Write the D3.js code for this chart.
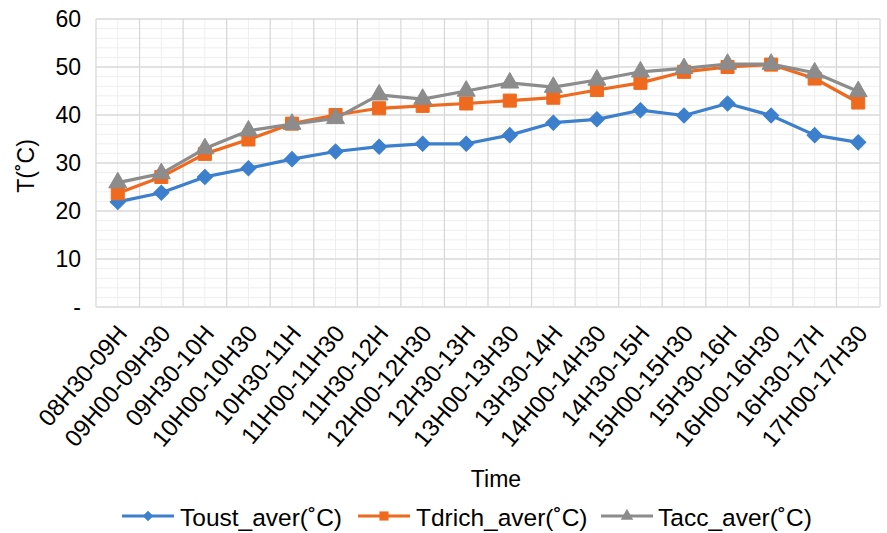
<!DOCTYPE html>
<html>
<head>
<meta charset="utf-8">
<script src="https://cdn.jsdelivr.net/npm/d3@7"></script>
<style>
  html, body { margin: 0; padding: 0; background: #fff; }
  svg { display: block; font-family: "Liberation Sans", Arial, sans-serif; }
</style>
</head>
<body>
<svg id="chart" width="887" height="533"></svg>
<script>
// Half-hour time slots
const categories = [
  "08H30-09H", "09H00-09H30", "09H30-10H", "10H00-10H30", "10H30-11H", "11H00-11H30",
  "11H30-12H", "12H00-12H30", "12H30-13H", "13H00-13H30", "13H30-14H", "14H00-14H30",
  "14H30-15H", "15H00-15H30", "15H30-16H", "16H00-16H30", "16H30-17H", "17H00-17H30"
];

// Average temperatures (°C)
const toustAver = [21.9, 23.8, 27.1, 28.9, 30.8, 32.4, 33.4, 34.0, 34.0, 35.8, 38.4, 39.1, 41.0, 39.9, 42.4, 39.9, 35.8, 34.3];
const tdrichAver = [23.7, 27.1, 31.9, 34.9, 38.2, 40.0, 41.4, 41.9, 42.4, 43.0, 43.6, 45.2, 46.7, 49.0, 50.0, 50.5, 47.6, 42.6];
const taccAver = [25.9, 27.8, 33.0, 36.7, 38.1, 39.3, 44.2, 43.3, 45.0, 46.7, 45.8, 47.3, 49.0, 49.7, 50.6, 50.6, 48.8, 44.9];

const seriesNames = ["Toust_aver(˚C)", "Tdrich_aver(˚C)", "Tacc_aver(˚C)"];
const yTicks = [0, 10, 20, 30, 40, 50, 60];
const yTickLabels = ["-", "10", "20", "30", "40", "50", "60"];

const series = [
  { name: seriesNames[0], values: toustAver, color: "#3c7fcd", marker: "diamond" },
  { name: seriesNames[1], values: tdrichAver, color: "#ef6a1e", marker: "square" },
  { name: seriesNames[2], values: taccAver, color: "#8c8c8c", marker: "triangle" }
];

const svg = d3.select("#chart");
const plot = { left: 96, right: 880, top: 19, bottom: 307 };
const FONT = "'Liberation Sans', Arial, sans-serif";

const x = d3.scaleBand().domain(categories).range([plot.left, plot.right]).paddingInner(0).paddingOuter(0);
const y = d3.scaleLinear().domain([0, 60]).range([plot.bottom, plot.top]);

// Gridlines: minor first, then major
const grid = svg.append("g");
const minorY = d3.range(0, 61, 2).filter(v => v % 10 !== 0);
grid.selectAll("line.minor-y").data(minorY).join("line")
  .attr("x1", plot.left).attr("x2", plot.right)
  .attr("y1", d => y(d)).attr("y2", d => y(d))
  .attr("stroke", "#eeeeee").attr("stroke-width", 1);
grid.selectAll("line.minor-x").data(categories).join("line")
  .attr("x1", d => x(d) + x.bandwidth() / 2).attr("x2", d => x(d) + x.bandwidth() / 2)
  .attr("y1", plot.top).attr("y2", plot.bottom)
  .attr("stroke", "#eeeeee").attr("stroke-width", 1);
grid.selectAll("line.major-y").data(yTicks).join("line")
  .attr("x1", plot.left).attr("x2", plot.right)
  .attr("y1", d => y(d)).attr("y2", d => y(d))
  .attr("stroke", "#d9d9d9").attr("stroke-width", 1.3);
const bounds = categories.map(c => x(c)).concat([plot.right]);
grid.selectAll("line.major-x").data(bounds).join("line")
  .attr("x1", d => d).attr("x2", d => d)
  .attr("y1", plot.top).attr("y2", plot.bottom)
  .attr("stroke", "#d9d9d9").attr("stroke-width", 1.3);

// Y axis labels
const yAxis = d3.axisLeft(y).tickValues(yTicks).tickSize(0).tickPadding(15)
  .tickFormat((d, i) => yTickLabels[i]);
svg.append("g").attr("transform", `translate(${plot.left},0)`).call(yAxis)
  .call(g => g.select(".domain").remove())
  .call(g => g.selectAll("text").attr("font-size", 23).attr("fill", "#000")
    .attr("font-family", FONT));

// X axis labels, rotated
const xAxis = d3.axisBottom(x).tickSize(0).tickPadding(0);
svg.append("g").attr("transform", `translate(0,${plot.bottom})`).call(xAxis)
  .call(g => g.select(".domain").remove())
  .call(g => g.selectAll("text")
    .attr("font-size", 24).attr("fill", "#000")
    .attr("font-family", FONT)
    .attr("text-anchor", "end").attr("dy", 0).attr("y", 0)
    .attr("transform", "translate(10.5,27) rotate(-50)"));

// Axis titles
svg.append("text").attr("x", 496).attr("y", 487).attr("text-anchor", "middle")
  .attr("font-size", 23).text("Time");
svg.append("text").attr("transform", "translate(34,166) rotate(-90)").attr("text-anchor", "middle")
  .attr("font-size", 23).text("T(˚C)");

// Marker shapes
function markerPath(kind) {
  if (kind === "square") return d3.symbol(d3.symbolSquare, 170)();
  if (kind === "triangle") return d3.symbol(d3.symbolTriangle, 140)();
  return d3.symbol(d3.symbolSquare, 115)();
}
function markerRotate(kind) { return kind === "diamond" ? 45 : 0; }

const line = d3.line().x((d, i) => x(categories[i]) + x.bandwidth() / 2).y(d => y(d));

const seriesG = svg.append("g");
series.forEach(s => {
  const g = seriesG.append("g");
  g.append("path").datum(s.values).attr("d", line)
    .attr("fill", "none").attr("stroke", s.color).attr("stroke-width", 3.2)
    .attr("stroke-linejoin", "round");
  g.selectAll("path.mk").data(s.values).join("path")
    .attr("d", markerPath(s.marker))
    .attr("transform", (d, i) => `translate(${x(categories[i]) + x.bandwidth() / 2},${y(d)}) rotate(${markerRotate(s.marker)})`)
    .attr("fill", s.color).attr("stroke", s.color).attr("stroke-width", 1);
});

// Legend
const legendItems = [
  { s: series[0], x0: 122, tx: 180 },
  { s: series[1], x0: 358, tx: 416 },
  { s: series[2], x0: 601, tx: 658 }
];
const legendY = 516;
legendItems.forEach(it => {
  const g = svg.append("g");
  g.append("line").attr("x1", it.x0).attr("x2", it.x0 + 52)
    .attr("y1", legendY).attr("y2", legendY)
    .attr("stroke", it.s.color).attr("stroke-width", 3.2);
  g.append("path").attr("d", markerPath(it.s.marker))
    .attr("transform", `translate(${it.x0 + 26},${legendY}) rotate(${markerRotate(it.s.marker)}) scale(0.7)`)
    .attr("fill", it.s.color);
  g.append("text").attr("x", it.tx).attr("y", legendY + 10).attr("font-size", 24.5).text(it.s.name);
});
</script>
</body>
</html>
